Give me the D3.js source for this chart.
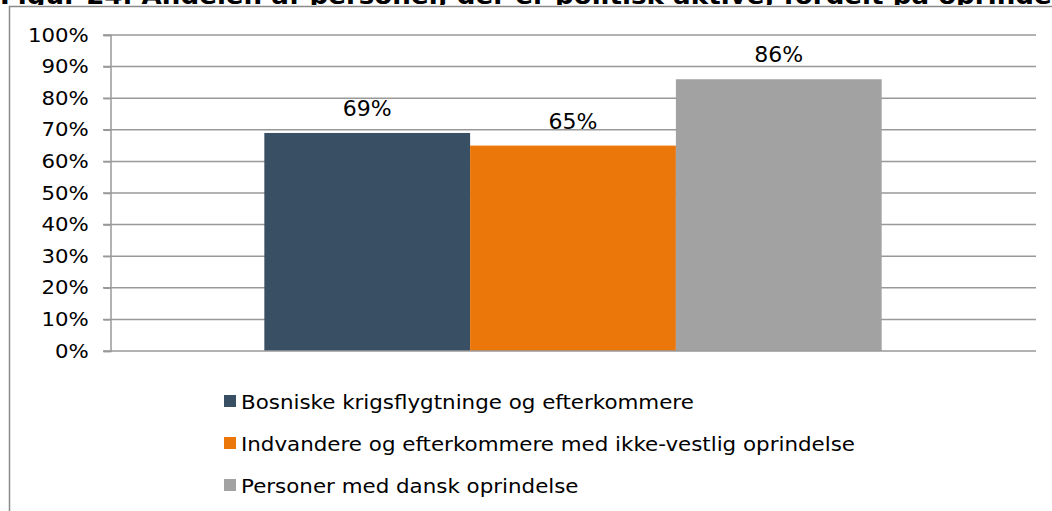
<!DOCTYPE html>
<html>
<head>
<meta charset="utf-8">
<script src="https://cdn.jsdelivr.net/npm/d3@7"></script>
<style>
  html, body { margin: 0; padding: 0; background: #fff; }
  svg { display: block; font-family: "DejaVu Sans", Verdana, sans-serif; }
</style>
</head>
<body>
<svg id="chart" width="1052" height="511"></svg>
<script>
var titleText = "Figur 24. Andelen af personer, der er politisk aktive, fordelt på oprindelse";
var categories = ["Politisk aktive"];
var seriesNames = [
  "Bosniske krigsflygtninge og efterkommere",
  "Indvandere og efterkommere med ikke-vestlig oprindelse",
  "Personer med dansk oprindelse"
];
var seriesValues = [0.69, 0.65, 0.86];
var seriesColors = ["#384f64", "#eb760a", "#a2a2a2"];
var yTicks = [0, 0.1, 0.2, 0.3, 0.4, 0.5, 0.6, 0.7, 0.8, 0.9, 1.0];

var svg = d3.select("#chart");

var plot = {left: 110, right: 1036, top: 35, bottom: 351};

// outer frame of the chart area (runs off the picture on the right and bottom)
svg.append("rect")
  .attr("x", 9.5).attr("y", 6.5)
  .attr("width", 1100).attr("height", 600)
  .attr("fill", "none")
  .attr("stroke", "#8a8a8a")
  .attr("stroke-width", 1.5);

// title, cut at the top edge like the original
svg.append("clipPath").attr("id", "titleclip")
  .append("rect").attr("x", 0).attr("y", 0).attr("width", 1052).attr("height", 5);

svg.append("g").attr("clip-path", "url(#titleclip)")
  .append("text")
  .attr("transform", "translate(0,4) scale(1.09,1)")
  .style("font-weight", "bold")
  .style("font-size", "24px")
  .text(titleText);

var y = d3.scaleLinear().domain([0, 1]).range([plot.bottom, plot.top]);

var x0 = d3.scaleBand()
  .domain(categories)
  .range([plot.left, plot.right])
  .paddingInner(0)
  .paddingOuter(0.25);

var x1 = d3.scaleBand()
  .domain(seriesNames)
  .range([0, x0.bandwidth()]);

// gridlines
svg.append("g")
  .selectAll("line")
  .data(yTicks.slice(1))
  .enter().append("line")
  .attr("x1", plot.left - 7)
  .attr("x2", plot.right)
  .attr("y1", function(d){ return y(d) })
  .attr("y2", function(d){ return y(d) })
  .attr("stroke", "#999")
  .attr("stroke-width", 1.5);

// y axis
var yAxis = svg.append("g")
  .attr("transform", "translate(" + (plot.left + 0.5) + ",0)")
  .call(d3.axisLeft(y).tickValues(yTicks).tickSize(7).tickPadding(12.5).tickFormat(d3.format(".0%")));

yAxis.select(".domain").attr("stroke", "#999").attr("stroke-width", 1.5);
yAxis.selectAll(".tick line").attr("stroke", "#999").attr("stroke-width", 1.5);
yAxis.selectAll(".tick text")
  .style("font-family", "DejaVu Sans, Verdana, sans-serif")
  .style("font-size", "19px")
  .attr("transform", "scale(1.12,1)")
  .attr("fill", "#000");

// bars
var groups = svg.append("g")
  .selectAll("g")
  .data(categories)
  .enter().append("g")
  .attr("transform", function(d){ return "translate(" + x0(d) + ",0)" });

groups.selectAll("rect")
  .data(seriesNames)
  .enter().append("rect")
  .attr("x", function(d){ return x1(d) })
  .attr("width", x1.bandwidth())
  .attr("y", function(d, i){ return y(seriesValues[i]) })
  .attr("height", function(d, i){ return y(0) - y(seriesValues[i]) })
  .attr("fill", function(d, i){ return seriesColors[i] });

groups.selectAll("text")
  .data(seriesNames)
  .enter().append("text")
  .attr("x", function(d){ return x1(d) + x1.bandwidth() / 2 })
  .attr("y", function(d, i){ return y(seriesValues[i]) - 17 })
  .attr("text-anchor", "middle")
  .style("font-size", "22px")
  .attr("fill", "#000")
  .text(function(d, i){ return d3.format(".0%")(seriesValues[i]) });

// x axis line
svg.append("line")
  .attr("x1", plot.left - 7).attr("x2", plot.right)
  .attr("y1", y(0)).attr("y2", y(0))
  .attr("stroke", "#999").attr("stroke-width", 1.5);

// legend
var legend = svg.append("g").attr("transform", "translate(224,401)");

var item = legend.selectAll("g")
  .data(seriesNames)
  .enter().append("g")
  .attr("transform", function(d, i){ return "translate(0," + (i * 42) + ")" });

item.append("rect")
  .attr("x", 0).attr("y", -6)
  .attr("width", 12).attr("height", 12)
  .attr("fill", function(d, i){ return seriesColors[i] });

item.append("text")
  .attr("transform", "translate(17,8) scale(1.07,1)")
  .style("font-size", "20px")
  .attr("fill", "#000")
  .text(function(d){ return d });
</script>
</body>
</html>
